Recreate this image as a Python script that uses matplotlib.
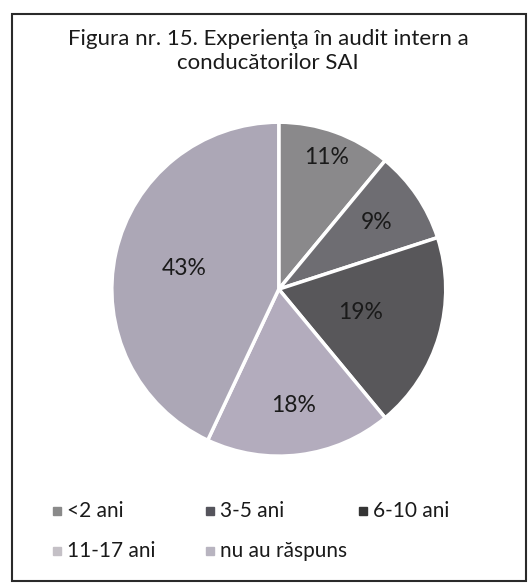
import matplotlib
matplotlib.use("Agg")
import matplotlib.pyplot as plt
from matplotlib.patches import Rectangle
from matplotlib.lines import Line2D
import numpy as np

plt.rcParams['font.family'] = ['Lato', 'DejaVu Sans']

title = "Figura nr. 15. Experienţa în audit intern a\nconducătorilor SAI"
categories = ["<2 ani", "3-5 ani", "6-10 ani", "11-17 ani", "nu au răspuns"]
values = [11, 9, 19, 18, 43]
labels = ["11%", "9%", "19%", "18%", "43%"]
colors = ["#8a898b", "#6e6d72", "#58575a", "#b3acbd", "#aca7b6"]
marker_colors = ["#8a8a8a", "#55545c", "#353535", "#c4c0c6", "#b8b4c0"]
label_radii = [0.84, 0.71, 0.51, 0.70, 0.58]

W, H = 530, 583
fig = plt.figure(figsize=(W/100, H/100), dpi=100)
fig.patch.set_facecolor("white")

def fx(px):
    return px / W

def fy(py):
    return 1 - py / H

fig.add_artist(Rectangle((fx(12), fy(581)), (526-12)/W, (581-14)/H,
                         transform=fig.transFigure, fill=False,
                         edgecolor="#2a2a2a", linewidth=1.5))

fig.text(fx(268), fy(51), title, ha="center", va="center",
         fontsize=16, color="#1a1a1a", linespacing=1.2)

ax = fig.add_axes([0.211, 0.2175, 0.630, 0.573])
wedges, _ = ax.pie(values, colors=colors, startangle=90, counterclock=False,
                   wedgeprops=dict(edgecolor="white", linewidth=2.5))
ax.set_xlim(-1, 1)
ax.set_ylim(-1, 1)
ax.set_aspect("equal")
ax.axis("off")

for w, lab, r in zip(wedges, labels, label_radii):
    ang = np.deg2rad((w.theta1 + w.theta2) / 2)
    ax.text(r * np.cos(ang), r * np.sin(ang), lab, ha="center", va="center",
            fontsize=16.5, color="#1a1a1a")

# legend laid out row-wise, three per row
col_x = [57, 210, 363]
row_y = [511, 551]
for i, (cat, c) in enumerate(zip(categories, marker_colors)):
    x = col_x[i % 3]
    y = row_y[i // 3]
    fig.add_artist(Line2D([fx(x)], [fy(y)], marker="s", markersize=5.5,
                          markerfacecolor=c, markeredgecolor=c,
                          linestyle="none", transform=fig.transFigure))
    fig.text(fx(x + 10), fy(y), cat, ha="left", va="center",
             fontsize=15, color="#1a1a1a")

fig.savefig("out.png", dpi=100, facecolor="white")
